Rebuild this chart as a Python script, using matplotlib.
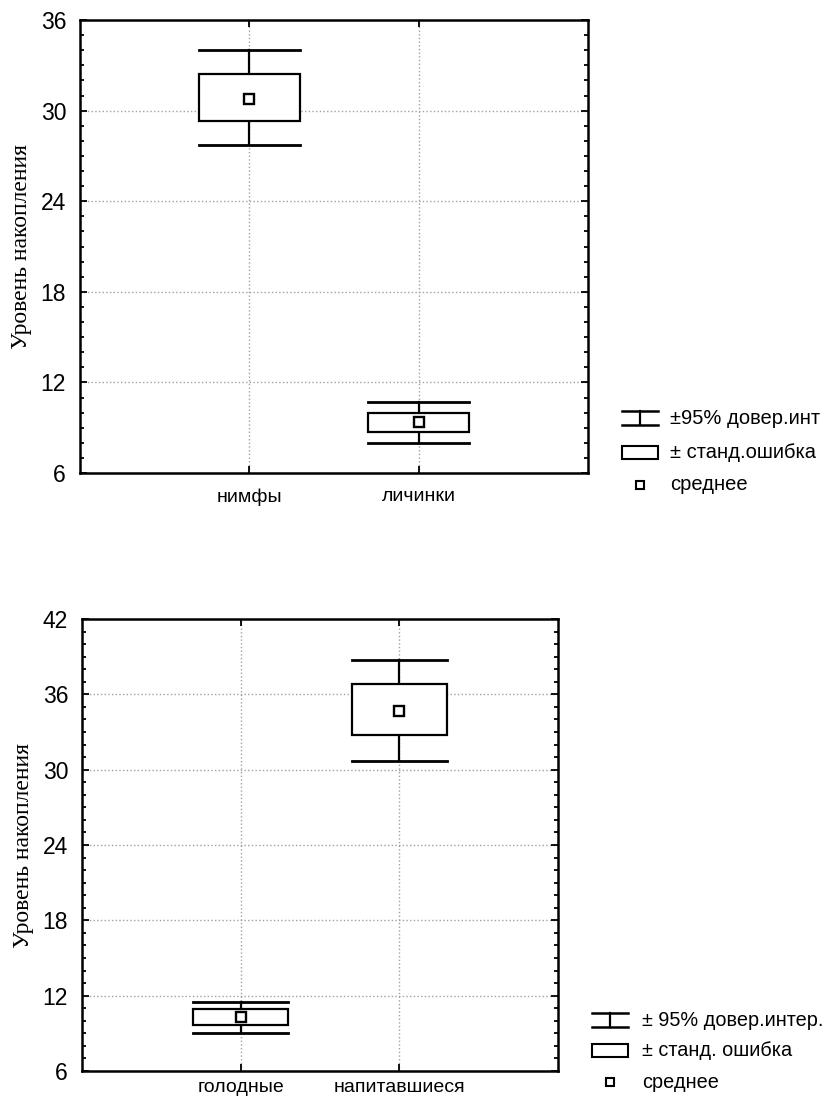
import matplotlib
matplotlib.use('Agg')
import matplotlib.pyplot as plt
from matplotlib.patches import Rectangle
from matplotlib.lines import Line2D
from matplotlib.ticker import MultipleLocator

# data
groups_top = ['нимфы', 'личинки']
mean_top = [30.8, 9.4]
se_lo_top = [29.3, 8.7]
se_hi_top = [32.4, 10.0]
ci_lo_top = [27.7, 8.0]
ci_hi_top = [34.0, 10.7]

groups_bot = ['голодные', 'напитавшиеся']
mean_bot = [10.3, 34.7]
se_lo_bot = [9.7, 32.8]
se_hi_bot = [10.9, 36.8]
ci_lo_bot = [9.0, 30.7]
ci_hi_bot = [11.5, 38.7]

legend_top = ['±95% довер.инт', '± станд.ошибка', 'среднее']
legend_bot = ['± 95% довер.интер.', '± станд. ошибка', 'среднее']

W, H = 827, 1101
TICK_FONT = 'Liberation Sans'
LABEL_FONT = 'Liberation Serif'


def px(x, y):
    return x / W, 1 - y / H


def box_panel(ax, groups, mean, se_lo, se_hi, ci_lo, ci_hi, ymax, xpad):
    hw = 0.3
    xs = range(1, len(groups) + 1)
    for x, m, sl, sh, cl, ch in zip(xs, mean, se_lo, se_hi, ci_lo, ci_hi):
        ax.plot([x, x], [cl, sl], color='black', lw=1.6, zorder=3)
        ax.plot([x, x], [sh, ch], color='black', lw=1.6, zorder=3)
        ax.plot([x - hw, x + hw], [cl, cl], color='black', lw=2.0, zorder=3)
        ax.plot([x - hw, x + hw], [ch, ch], color='black', lw=2.0, zorder=3)
        ax.add_patch(Rectangle((x - hw, sl), 2 * hw, sh - sl, facecolor='white',
                               edgecolor='black', lw=1.6, zorder=3))
        ax.plot(x, m, marker='s', ms=7.5, mfc='white', mec='black', mew=1.7, zorder=4)
    ax.set_xlim(0, len(groups) + 1)
    ax.set_ylim(6, ymax)
    ax.set_xticks(list(xs))
    ax.set_xticklabels(groups, fontsize=14, family=TICK_FONT)
    ax.set_yticks(range(6, ymax + 1, 6))
    ax.yaxis.set_minor_locator(MultipleLocator(1))
    for lab in ax.get_yticklabels():
        lab.set_family(TICK_FONT)
        lab.set_fontsize(16.5)
    ax.tick_params(which='both', direction='in', top=True, right=True, width=1.3)
    ax.tick_params(which='major', length=5)
    ax.tick_params(which='minor', length=3)
    ax.tick_params(axis='y', pad=10)
    ax.tick_params(axis='x', pad=xpad)
    ax.grid(True, linestyle=':', color='#a0a0a0', lw=1.0)
    for s in ax.spines.values():
        s.set_linewidth(1.8)
    ax.set_ylabel('Уровень накопления', family=LABEL_FONT, fontsize=17, labelpad=6)


def draw_legend(fig, x0, x1, text_x, rows, labels, fs):
    xm = (x0 + x1) / 2
    y0 = rows[0]
    kw = dict(transform=fig.transFigure, color='black')
    for yy in (y0 - 7, y0 + 7):
        fig.add_artist(Line2D([x0 / W, x1 / W], [1 - yy / H, 1 - yy / H], lw=1.8, **kw))
    fig.add_artist(Line2D([xm / W, xm / W], [1 - (y0 - 7) / H, 1 - (y0 + 7) / H], lw=1.6, **kw))
    y1 = rows[1]
    fig.add_artist(Rectangle(px(x0, y1 + 6.5), (x1 - x0) / W, 13 / H, transform=fig.transFigure,
                             facecolor='white', edgecolor='black', lw=1.5))
    y2 = rows[2]
    fig.add_artist(Line2D([xm / W], [1 - y2 / H], marker='s', ms=5.5, mfc='white',
                          mec='black', mew=1.5, transform=fig.transFigure))
    for yy, lab in zip(rows, labels):
        fig.text(text_x / W, 1 - yy / H, lab, family=TICK_FONT, fontsize=fs,
                 va='center', ha='left')


fig = plt.figure(figsize=(W / 100, H / 100), dpi=100)

ax1 = fig.add_axes([80 / W, 1 - 473 / H, 508 / W, 453 / H])
box_panel(ax1, groups_top, mean_top, se_lo_top, se_hi_top, ci_lo_top, ci_hi_top, 36, 11)

ax2 = fig.add_axes([82 / W, 1 - 1071 / H, 476 / W, 452 / H])
box_panel(ax2, groups_bot, mean_bot, se_lo_bot, se_hi_bot, ci_lo_bot, ci_hi_bot, 42, 6)

draw_legend(fig, 622, 658, 670, [418, 452, 485], legend_top, 14.5)
draw_legend(fig, 592, 628, 642, [1020, 1050, 1082], legend_bot, 14.3)

fig.savefig('out.png', dpi=100, facecolor='white')
